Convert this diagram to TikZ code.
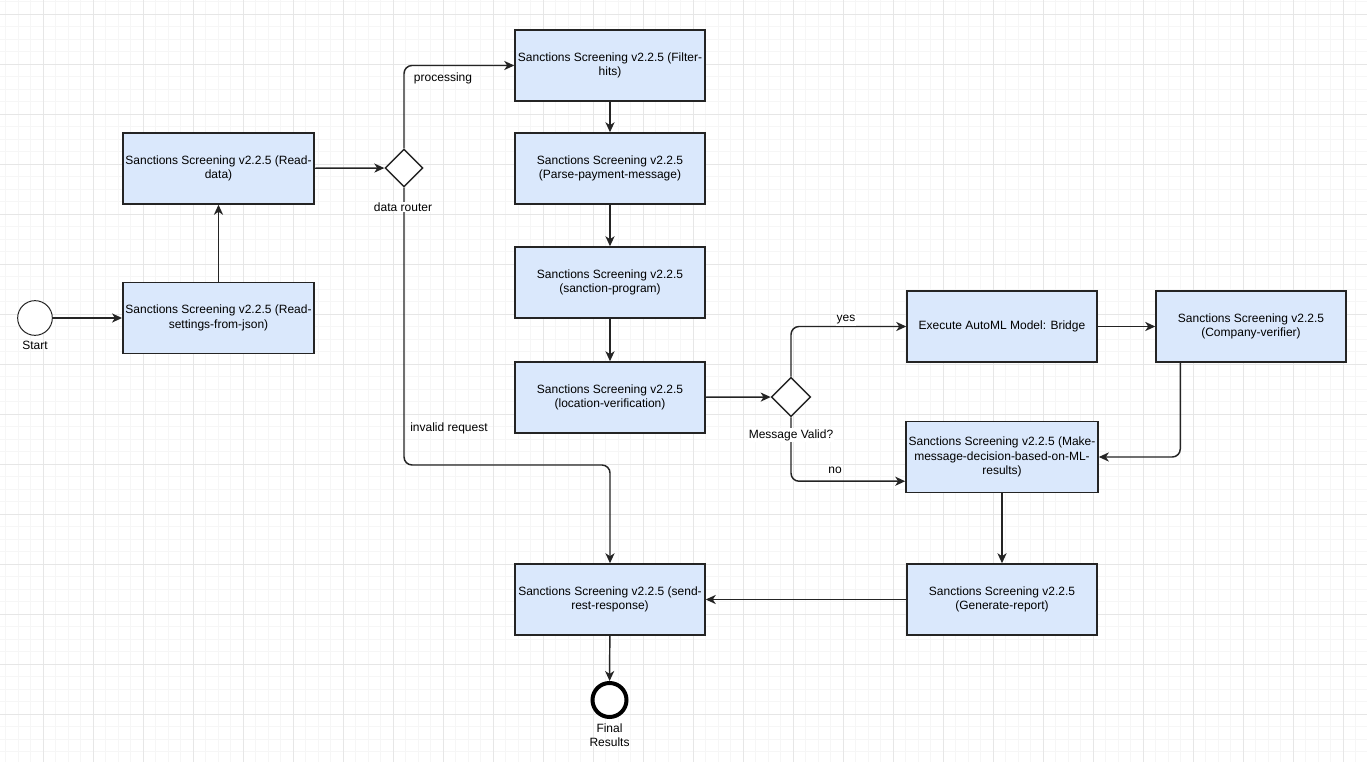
\documentclass[tikz,border=0pt]{standalone}
\usepackage{fontspec}
\setmainfont{Liberation Sans}
\usetikzlibrary{arrows.meta,shapes.geometric}
\definecolor{flowboxblue}{RGB}{218,232,252}
\definecolor{flowdark}{RGB}{36,36,36}
\definecolor{flowgridminor}{RGB}{246,246,246}
\definecolor{flowgridmajor}{RGB}{230,230,230}
\tikzset{
  flow box/.style={
    draw=flowdark,
    fill=flowboxblue,
    line width=1.1pt,
    minimum width=142.5pt,
    minimum height=53.25pt,
    inner sep=2pt,
    align=center,
    font=\fontsize{9}{10.8}\selectfont,
  },
  flow gate/.style={
    diamond,
    draw=flowdark,
    fill=white,
    line width=1.1pt,
    minimum width=28.5pt,
    minimum height=28.5pt,
    inner sep=0pt,
  },
  flow arrow/.style={
    -{Stealth[length=7.5pt,width=6.8pt,inset=2.2pt]},
    line width=1.1pt,
    draw=flowdark,
    rounded corners=6pt,
  },
  flow label/.style={
    inner sep=0.8pt,
    align=center,
    font=\fontsize{9}{10.8}\selectfont,
  },
}

\begin{document}
\begin{tikzpicture}[x=0.75pt,y=-0.75pt]
  \useasboundingbox (0,0) rectangle (1367,762);
  \fill[white] (0,0) rectangle (1367,762);
  % grid
  \foreach \gx in {5.8,18.3,...,1367} \draw[flowgridminor, line width=0.75pt] (\gx,0) -- (\gx,762);
  \foreach \gy in {1.8,14.3,...,762} \draw[flowgridminor, line width=0.75pt] (0,\gy) -- (1367,\gy);
  \foreach \gx in {43.3,93.3,...,1367} \draw[flowgridmajor, line width=0.75pt] (\gx,0) -- (\gx,762);
  \foreach \gy in {14.3,64.3,...,762} \draw[flowgridmajor, line width=0.75pt] (0,\gy) -- (1367,\gy);

  \node[circle, draw=flowdark, fill=white, line width=0.75pt, minimum size=26pt] (start) at (35,318) {};
  \node[flow box] (settings) at (218.5,318) {Sanctions Screening v2.2.5 (Read-\\settings-from-json)};
  \node[flow box] (readdata) at (218.5,168.5) {Sanctions Screening v2.2.5 (Read-\\data)};
  \node[flow gate] (router) at (404,168) {};
  \node[flow box] (filter) at (610,65.5) {Sanctions Screening v2.2.5 (Filter-\\hits)};
  \node[flow box] (parse) at (610,168.5) {Sanctions Screening v2.2.5\\(Parse-payment-message)};
  \node[flow box] (program) at (610,282.5) {Sanctions Screening v2.2.5\\(sanction-program)};
  \node[flow box] (location) at (610,397.5) {Sanctions Screening v2.2.5\\(location-verification)};
  \node[flow gate, minimum width=29.5pt, minimum height=29.5pt] (valid) at (791,397) {};
  \node[flow box] (automl) at (1002,326.5) {Execute AutoML Model: Bridge};
  \node[flow box] (company) at (1251,326.5) {Sanctions Screening v2.2.5\\(Company-verifier)};
  \node[flow box] (decide) at (1002,457) {Sanctions Screening v2.2.5 (Make-\\message-decision-based-on-ML-\\results)};
  \node[flow box] (report) at (1002,599.5) {Sanctions Screening v2.2.5\\(Generate-report)};
  \node[flow box] (reply) at (610,599.5) {Sanctions Screening v2.2.5 (send-\\rest-response)};
  \node[circle, draw=black, fill=white, line width=3pt, minimum size=25.5pt] (final) at (609.5,700) {};

  % connectors
  \coordinate (invbend) at (500,465);
  \draw[flow arrow] (start) -- (settings);
  \draw[flow arrow] (settings) -- (readdata);
  \draw[flow arrow] (readdata) -- (router);
  \draw[flow arrow] (router.north) |- (filter.west);
  \draw[flow arrow] (router.south) |- (invbend) -| (reply.north);
  \draw[flow arrow] (filter) -- (parse);
  \draw[flow arrow] (parse) -- (program);
  \draw[flow arrow] (program) -- (location);
  \draw[flow arrow] (location) -- (valid);
  \draw[flow arrow] (valid.north) |- (automl.west);
  \draw[flow arrow] (valid.south) |- ([yshift=9pt]decide.south west);
  \draw[flow arrow] (automl) -- (company);
  \draw[flow arrow] ([xshift=18.75pt]company.south west) |- (decide.east);
  \draw[flow arrow] (decide) -- (report);
  \draw[flow arrow] (report) -- (reply);
  \draw[flow arrow] (reply) -- (final);

  % labels
  \node[flow label] (startlbl) at (35,345) {Start};
  \node[flow label] (finallbl) at (609.5,735.5) {Final\\Results};
  \node[flow label, fill=white] (routerlbl) at (403,207) {data router};
  \node[flow label, fill=white] (validlbl) at (791,435) {Message Valid?};
  \node[flow label] (proclbl) at (443,78) {processing};
  \node[flow label] (invlbl) at (449,428) {invalid request};
  \node[flow label, fill=white] (yeslbl) at (846,320) {yes};
  \node[flow label] (nolbl) at (835,470) {no};
\end{tikzpicture}
\end{document}
